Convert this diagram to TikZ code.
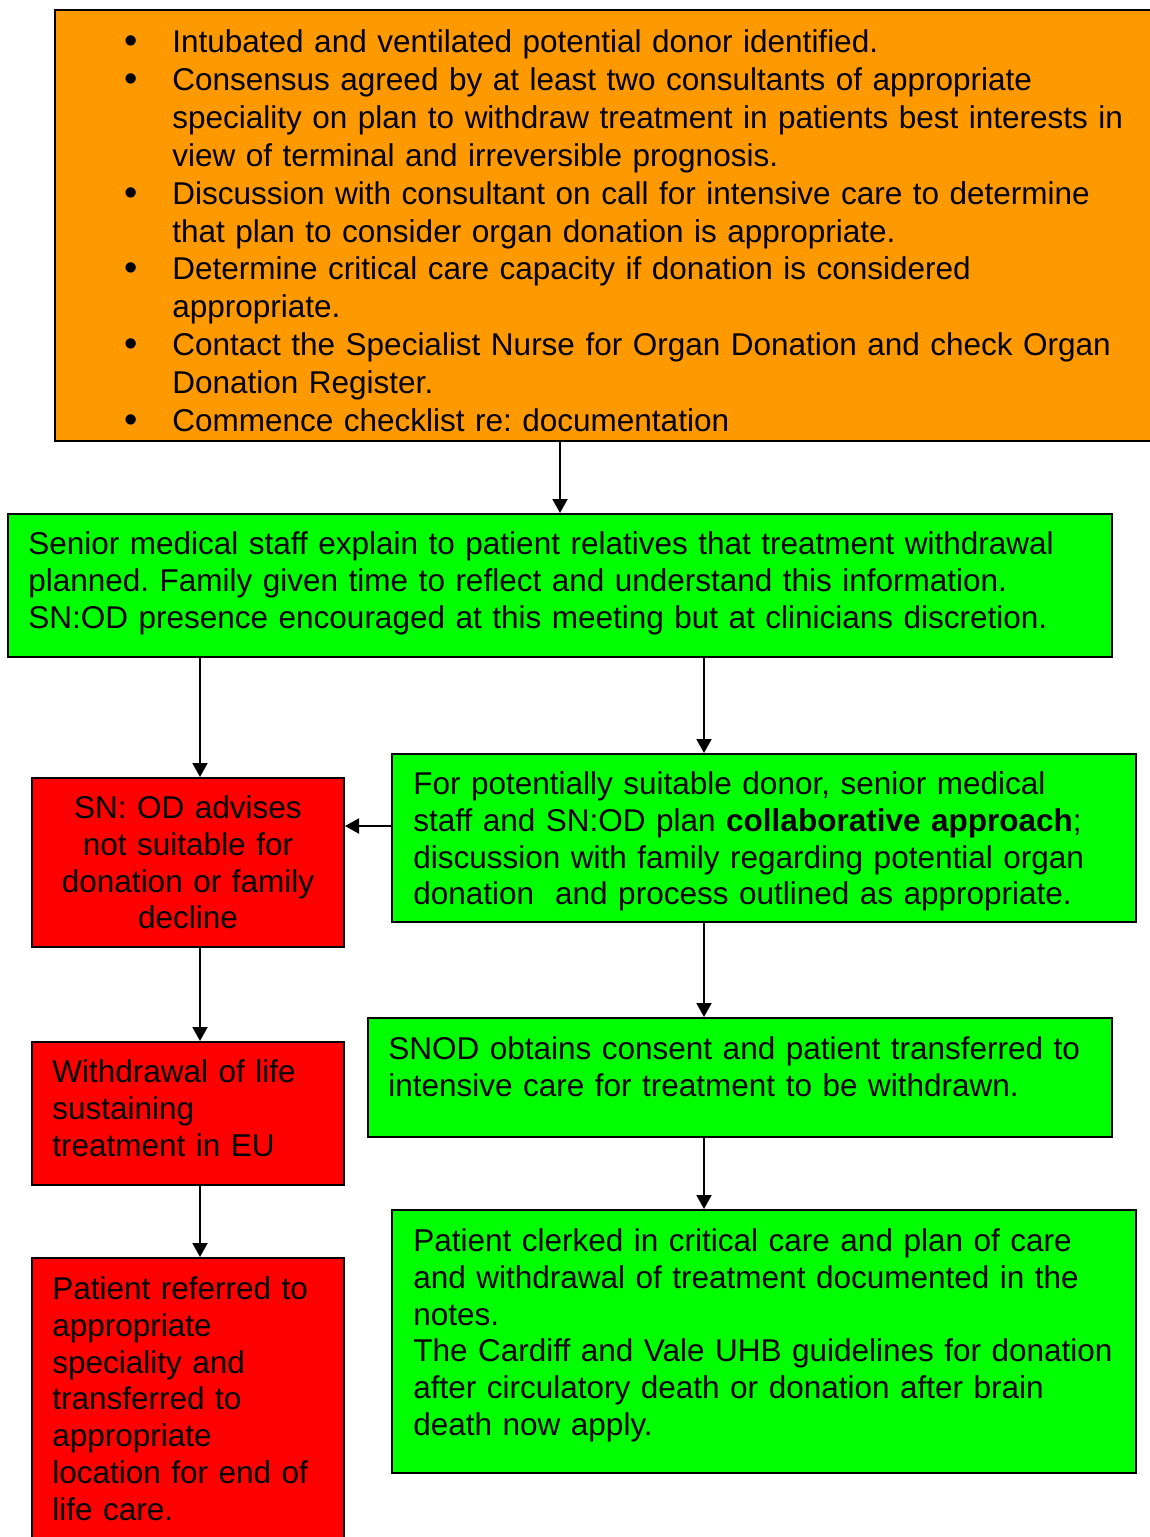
\documentclass[tikz,border=0pt]{standalone}
\usepackage{fontspec}
\setmainfont{Liberation Sans}
\usetikzlibrary{arrows.meta,fit}
\definecolor{orangebox}{HTML}{FF9900}
\definecolor{greenbox}{HTML}{00FF00}
\definecolor{redbox}{HTML}{FF0000}
\frenchspacing
\tikzset{
  box/.style={draw=black, line width=1pt, inner sep=0pt},
  obox/.style={box, fill=orangebox},
  gbox/.style={box, fill=greenbox},
  rbox/.style={box, fill=redbox},
  txt/.style={inner sep=0pt, anchor=base west, text width=560pt, align=left,
    font=\fontsize{15.75pt}{18.4pt}\selectfont\frenchspacing},
  otxt/.style={txt, font=\fontsize{15.75pt}{18.95pt}\selectfont\frenchspacing},
  ctxt/.style={inner sep=0pt, anchor=base, text width=156pt, align=center,
    font=\fontsize{15.75pt}{18.4pt}\selectfont\frenchspacing},
  arr/.style={line width=1pt, -{Triangle[length=7pt,width=7.5pt]}}
}
\newcommand{\bul}{\leavevmode\llap{\raisebox{-0.5pt}{\fontsize{19pt}{19pt}\selectfont\textbullet}\hspace{17.5pt}}}
\begin{document}
\begin{tikzpicture}[x=0.5pt,y=-0.5pt]
\useasboundingbox (0,0) rectangle (1150,1537);
\clip (0,0) rectangle (1150,1537);
% boxes
\node[obox, fit={(55,10) (1170,441)}] (orange) {};
\node[gbox, fit={(8,514) (1112,657)}] (green1) {};
\node[rbox, fit={(32,778) (344,947)}] (red1) {};
\node[gbox, fit={(392,754) (1136,922)}] (green2) {};
\node[rbox, fit={(32,1042) (344,1185)}] (red2) {};
\node[gbox, fit={(368,1018) (1112,1137)}] (green3) {};
\node[rbox, fit={(32,1258) (344,1560)}] (red3) {};
\node[gbox, fit={(392,1210) (1136,1473)}] (green4) {};
% texts
\node[otxt] (t0) at (172,52.5) {\bul Intubated and ventilated potential donor identified.\\
\bul Consensus agreed by at least two consultants of appropriate\\
speciality on plan to withdraw treatment in patients best interests in\\
view of terminal and irreversible prognosis.\\
\bul Discussion with consultant on call for intensive care to determine\\
that plan to consider organ donation is appropriate.\\
\bul Determine critical care capacity if donation is considered\\
appropriate.\\
\bul Contact the Specialist Nurse for Organ Donation and check Organ\\
Donation Register.\\
\bul Commence checklist re: documentation};
\node[txt] (t1) at (28,554.5) {Senior medical staff explain to patient relatives that treatment withdrawal\\
planned. Family given time to reflect and understand this information.\\
SN:OD presence encouraged at this meeting but at clinicians discretion.};
\node[ctxt] (t2) at (188,818.5) {SN: OD advises\\ not suitable for\\ donation or family\\ decline};
\node[txt] (t3) at (413,794.5) {For potentially suitable donor, senior medical\\
staff and SN:OD plan \textbf{collaborative approach};\\
discussion with family regarding potential organ\\
donation\ \ and process outlined as appropriate.};
\node[txt] (t4) at (52,1082.5) {Withdrawal of life\\ sustaining\\ treatment in EU};
\node[txt] (t5) at (388,1059.5) {SNOD obtains consent and patient transferred to\\
intensive care for treatment to be withdrawn.};
\node[txt] (t6) at (52,1299.5) {Patient referred to\\ appropriate\\ speciality and\\ transferred to\\ appropriate\\ location for end of\\ life care.};
\node[txt] (t7) at (413,1251.5) {Patient clerked in critical care and plan of care\\
and withdrawal of treatment documented in the\\
notes.\\
The Cardiff and Vale UHB guidelines for donation\\
after circulatory death or donation after brain\\
death now apply.};
% connectors
\draw[arr] (orange.south -| green1.north) -- (green1.north);
\draw[arr] (green1.south -| 200,0) -- (red1.north -| 200,0);
\draw[arr] (green1.south -| 704,0) -- (green2.north -| 704,0);
\draw[arr] (green2.west |- 0,826) -- (red1.east |- 0,826);
\draw[arr] (red1.south -| 200,0) -- (red2.north -| 200,0);
\draw[arr] (red2.south -| 200,0) -- (red3.north -| 200,0);
\draw[arr] (green2.south -| 704,0) -- (green3.north -| 704,0);
\draw[arr] (green3.south -| 704,0) -- (green4.north -| 704,0);
\end{tikzpicture}
\end{document}
